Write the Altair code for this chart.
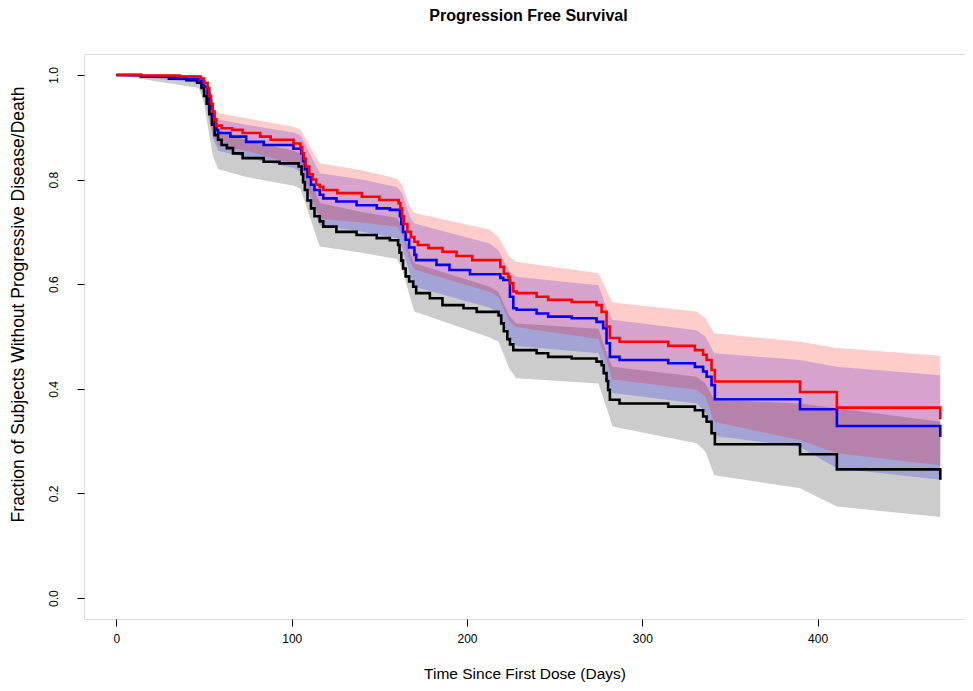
import altair as alt
import pandas as pd

# ---- Kaplan-Meier step curves (time in days, survival fraction) ----
RED_T = [0, 14, 36, 48, 50, 52, 53, 54, 55, 56, 57, 60, 66, 72, 82, 88, 101, 105, 106, 107, 108, 110, 112, 114,
         116, 118, 126, 140, 150, 161, 162, 163, 164, 166, 168, 170, 172, 178, 186, 194, 203, 219, 221, 223.5,
         224.5, 226.4, 228.3, 239.7, 246.3, 259.7, 273.9, 276.8, 279.6, 281.5, 287, 314.8, 330, 334.7, 336.7,
         339.5, 341.4, 390, 411, 470]
RED_S = [1.0, 0.999, 0.997, 0.993, 0.985, 0.975, 0.96, 0.945, 0.93, 0.915, 0.903, 0.898, 0.895, 0.889, 0.882,
         0.876, 0.869, 0.862, 0.85, 0.84, 0.825, 0.81, 0.80, 0.79, 0.786, 0.78, 0.774, 0.767, 0.761, 0.755, 0.745,
         0.73, 0.715, 0.70, 0.69, 0.681, 0.675, 0.669, 0.662, 0.654, 0.646, 0.633, 0.62, 0.614, 0.602, 0.586,
         0.583, 0.576, 0.570, 0.566, 0.560, 0.547, 0.519, 0.497, 0.490, 0.482, 0.474, 0.465, 0.455, 0.436, 0.414,
         0.394, 0.364, 0.342]

BLUE_T = [0, 14, 30, 40, 48, 50, 52, 53, 54, 55, 56, 57, 58, 65, 74, 84, 101, 105.5, 106.5, 107.5, 109, 111, 113,
          116, 118, 125.5, 137, 148.5, 156, 161.7, 162.5, 163.5, 165, 167, 170, 171, 182.6, 190, 201.7, 219,
          220.7, 224.5, 226.4, 228.3, 239.7, 246.3, 259.7, 273.9, 277.7, 279.6, 281.5, 287, 314.8, 330, 334.7,
          336.7, 339.5, 341.4, 390, 411, 470]
BLUE_S = [1.0, 0.998, 0.995, 0.992, 0.988, 0.978, 0.965, 0.95, 0.935, 0.92, 0.905, 0.895, 0.889, 0.882, 0.872,
          0.866, 0.859, 0.85, 0.835, 0.82, 0.805, 0.79, 0.78, 0.771, 0.764, 0.758, 0.751, 0.745, 0.742, 0.73,
          0.715, 0.70, 0.685, 0.67, 0.656, 0.646, 0.637, 0.627, 0.619, 0.612, 0.608, 0.576, 0.554, 0.551, 0.544,
          0.538, 0.535, 0.528, 0.516, 0.487, 0.461, 0.455, 0.449, 0.442, 0.433, 0.423, 0.407, 0.380, 0.361,
          0.329, 0.308]

BLACK_T = [0, 14, 30, 40, 46, 48.5, 50, 51.5, 53, 54.5, 56, 58, 60, 63, 66.5, 72, 84, 93, 104, 105.6, 106.5,
           107.5, 109, 111, 113, 116, 118, 125.5, 137, 148.5, 156, 160.7, 161.5, 162.5, 163.5, 165, 167, 169.3,
           171, 178.8, 186, 198, 205.5, 218, 219.5, 221, 223, 224.5, 226.4, 239.7, 246.3, 259.7, 273.9, 276.8,
           278, 279.6, 280.5, 281.5, 287, 314.8, 330, 334.7, 336.7, 339.5, 341.4, 390, 411, 470]
BLACK_S = [1.0, 0.997, 0.993, 0.99, 0.985, 0.975, 0.96, 0.945, 0.925, 0.905, 0.885, 0.876, 0.866, 0.860, 0.850,
           0.841, 0.834, 0.831, 0.825, 0.81, 0.795, 0.78, 0.76, 0.745, 0.73, 0.720, 0.710, 0.700, 0.694, 0.688,
           0.684, 0.675, 0.66, 0.645, 0.63, 0.615, 0.605, 0.595, 0.583, 0.573, 0.560, 0.554, 0.547, 0.54, 0.525,
           0.51, 0.495, 0.485, 0.474, 0.468, 0.461, 0.458, 0.452, 0.445, 0.43, 0.415, 0.398, 0.379, 0.372, 0.366,
           0.359, 0.347, 0.337, 0.315, 0.294, 0.275, 0.246, 0.226]

# ---- confidence bands (shared band times) ----
BAND_T = [0, 47, 50, 55, 58, 74, 101, 105, 116, 140, 160, 163, 167.5, 170, 213, 218, 224, 228, 275, 280, 283,
          331, 336, 341, 390, 411, 470]
RED_UP = [1.0, 1.0, 0.997, 0.937, 0.927, 0.917, 0.901, 0.895, 0.831, 0.818, 0.802, 0.79, 0.748, 0.736, 0.704,
          0.69, 0.653, 0.643, 0.621, 0.586, 0.565, 0.548, 0.535, 0.506, 0.490, 0.478, 0.463]
RED_LO = [1.0, 0.99, 0.97, 0.89, 0.865, 0.855, 0.830, 0.825, 0.725, 0.718, 0.710, 0.695, 0.645, 0.628, 0.585,
          0.575, 0.53, 0.518, 0.495, 0.45, 0.418, 0.398, 0.385, 0.337, 0.302, 0.277, 0.254]
BLUE_UP = [1.0, 1.0, 0.995, 0.925, 0.915, 0.905, 0.890, 0.885, 0.812, 0.80, 0.786, 0.774, 0.728, 0.716, 0.678,
           0.665, 0.625, 0.614, 0.598, 0.55, 0.532, 0.512, 0.50, 0.468, 0.455, 0.442, 0.426]
BLUE_LO = [1.0, 0.985, 0.96, 0.88, 0.855, 0.842, 0.822, 0.815, 0.712, 0.70, 0.688, 0.67, 0.62, 0.595, 0.555,
           0.545, 0.50, 0.482, 0.468, 0.42, 0.392, 0.372, 0.355, 0.31, 0.289, 0.248, 0.226]
GRAY_UP = [1.0, 1.0, 0.99, 0.915, 0.895, 0.875, 0.855, 0.85, 0.755, 0.738, 0.727, 0.71, 0.66, 0.64, 0.595,
           0.585, 0.54, 0.525, 0.515, 0.465, 0.442, 0.423, 0.41, 0.379, 0.372, 0.363, 0.337]
GRAY_LO = [1.0, 0.975, 0.945, 0.845, 0.82, 0.805, 0.788, 0.782, 0.672, 0.66, 0.648, 0.63, 0.575, 0.548, 0.498,
           0.49, 0.44, 0.42, 0.41, 0.36, 0.328, 0.296, 0.28, 0.235, 0.21, 0.175, 0.155]

X_TICKS = [0, 100, 200, 300, 400]
Y_TICKS = [0.0, 0.2, 0.4, 0.6, 0.8, 1.0]

FONT = "Liberation Sans"

xscale = alt.Scale(domain=[-18.5, 484.1], nice=False, zero=False)
yscale = alt.Scale(domain=[-0.04, 1.04], nice=False, zero=False)

xaxis = alt.Axis(values=X_TICKS, title="Time Since First Dose (Days)", grid=False, domain=False,
                 tickColor="black", tickSize=7, tickWidth=1, labelFontSize=12, labelPadding=7,
                 labelColor="black", labelFont=FONT, titleFont=FONT, titleFontSize=15.5,
                 titleFontWeight="normal", titleColor="black", titlePadding=22, format="d")
yaxis = alt.Axis(values=Y_TICKS, title="Fraction of Subjects Without Progressive Disease/Death", grid=False,
                 domain=False, tickColor="black", tickSize=7, tickWidth=1, labelFontSize=12, labelPadding=17,
                 labelAngle=270, labelAlign="center", labelBaseline="bottom", labelColor="black",
                 labelFont=FONT, titleFont=FONT, titleFontSize=17.5, titleFontWeight="normal",
                 titleColor="black", titlePadding=20, titleY=250, format=".1f")


def band(up, lo, color):
    df = pd.DataFrame({"t": BAND_T, "up": up, "lo": lo})
    return alt.Chart(df).mark_area(color=color, opacity=0.2, interpolate="linear").encode(
        x=alt.X("t:Q", scale=xscale, axis=xaxis),
        y=alt.Y("up:Q", scale=yscale, axis=yaxis),
        y2="lo:Q",
    )


def curve(t, s, color):
    df = pd.DataFrame({"t": t, "s": s})
    return alt.Chart(df).mark_line(color=color, strokeWidth=2.6, interpolate="step-after",
                                   strokeJoin="miter").encode(
        x=alt.X("t:Q", scale=xscale, axis=xaxis),
        y=alt.Y("s:Q", scale=yscale, axis=yaxis),
    )


chart = alt.layer(
    band(GRAY_UP, GRAY_LO, "#000000"),
    band(BLUE_UP, BLUE_LO, "#0000FF"),
    band(RED_UP, RED_LO, "#FF0000"),
    curve(BLACK_T, BLACK_S, "#000000"),
    curve(BLUE_T, BLUE_S, "#0000FF"),
    curve(RED_T, RED_S, "#FF0000"),
).properties(
    width=881,
    height=565,
    title=alt.TitleParams("Progression Free Survival", font=FONT, fontSize=16, fontWeight="bold",
                          color="black", anchor="middle", offset=30, dx=4),
    autosize=alt.AutoSizeParams(type="none"),
    padding={"left": 76, "top": 46, "right": 0, "bottom": 64},
).configure_view(
    stroke="black", strokeWidth=1
).configure(background="white")

chart.save("out.html", embed_options={"renderer": "svg", "actions": False})
